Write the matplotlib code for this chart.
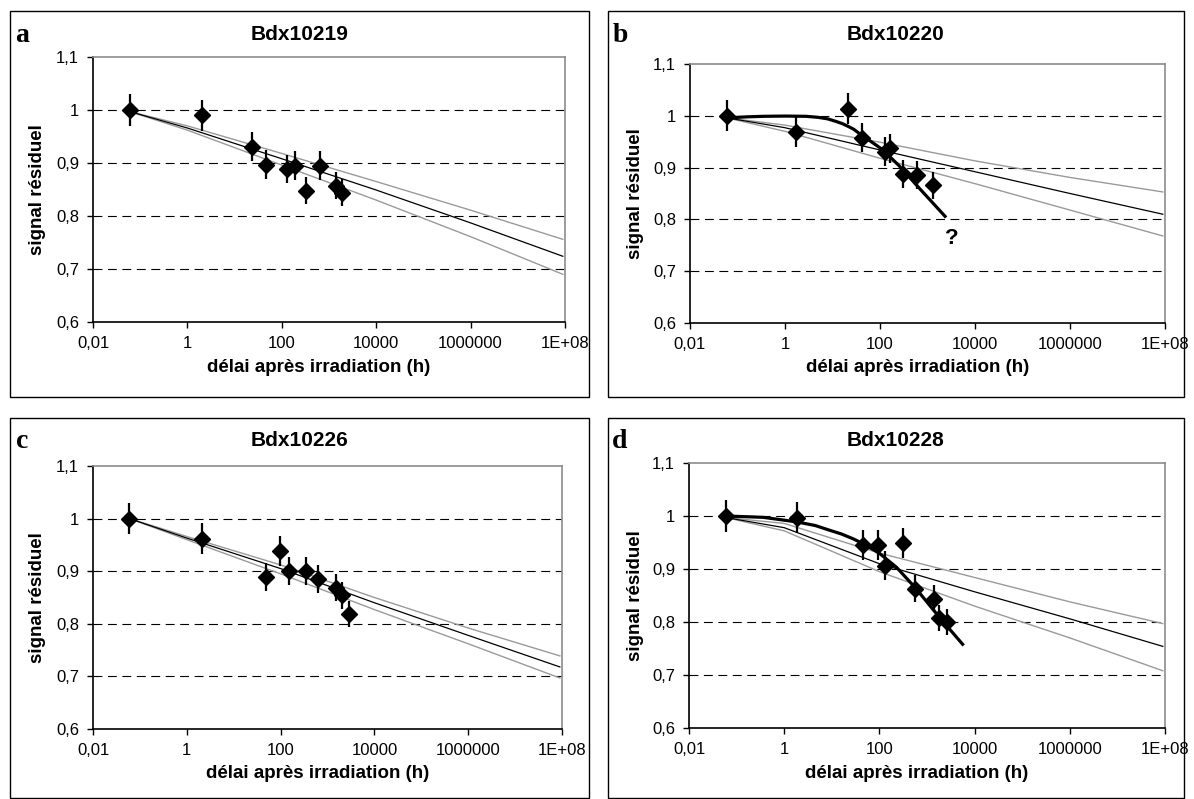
import numpy as np
import matplotlib.pyplot as plt
from matplotlib.patches import Rectangle

plt.rcParams['font.family'] = ['Liberation Sans', 'DejaVu Sans']

W, H = 1194, 799

# ---- values ----
# fitted fading lines (upper / central / lower), common time grid (h)
fit_t = [0.06, 1, 100, 1e4, 1e6, 9e7]

# panel a : Bdx10219
a_t = [0.06, 2.0, 23, 47, 132, 192, 322, 630, 1425, 1850]
a_sig = [1.0, 0.990, 0.931, 0.897, 0.889, 0.895, 0.848, 0.895, 0.857, 0.844]
a_up = [0.997, 0.970, 0.918, 0.865, 0.811, 0.756]
a_mid = [0.997, 0.966, 0.908, 0.849, 0.787, 0.724]
a_low = [0.997, 0.962, 0.896, 0.830, 0.761, 0.690]

# panel b : Bdx10220
b_t = [0.06, 1.67, 21, 41, 126, 161, 311, 590, 1300]
b_sig = [1.0, 0.968, 1.014, 0.958, 0.931, 0.937, 0.888, 0.886, 0.866]
b_up = [0.996, 0.982, 0.949, 0.913, 0.881, 0.853]
b_mid = [0.996, 0.977, 0.934, 0.892, 0.850, 0.810]
b_low = [0.996, 0.970, 0.918, 0.869, 0.818, 0.768]
b_curve_t = [0.06, 0.16, 0.35, 1, 2.8, 5, 8, 12, 16, 22, 28, 43, 63, 112, 250, 660, 2340]
b_curve = [0.996, 0.998, 0.999, 0.9995, 0.999, 0.997, 0.994, 0.989, 0.985, 0.979,
           0.974, 0.961, 0.951, 0.935, 0.904, 0.861, 0.806]

# panel c : Bdx10226
c_t = [0.06, 2.1, 48, 97, 150, 343, 620, 1500, 2040, 2920]
c_sig = [1.0, 0.962, 0.889, 0.938, 0.900, 0.900, 0.886, 0.869, 0.854, 0.818]
c_up = [1.0, 0.966, 0.912, 0.850, 0.792, 0.739]
c_mid = [1.0, 0.963, 0.905, 0.840, 0.778, 0.718]
c_low = [1.0, 0.960, 0.895, 0.827, 0.762, 0.697]

# panel d : Bdx10228
d_t = [0.06, 1.83, 45, 92, 133, 316, 568, 1400, 1760, 2580]
d_sig = [1.0, 0.997, 0.945, 0.946, 0.906, 0.949, 0.863, 0.844, 0.808, 0.800]
d_up = [0.997, 0.986, 0.930, 0.884, 0.838, 0.797]
d_mid = [0.997, 0.978, 0.910, 0.857, 0.806, 0.754]
d_low = [0.997, 0.972, 0.895, 0.830, 0.770, 0.708]
d_curve_t = [0.06, 0.36, 1.8, 4.5, 9.1, 16, 28, 50, 102, 230, 575, 1860, 5600]
d_curve = [1.0, 0.9975, 0.989, 0.982, 0.973, 0.966, 0.957, 0.946, 0.929, 0.903,
           0.864, 0.808, 0.758]

rel_err = 0.03

x_ticks = [0.01, 1, 100, 1e4, 1e6, 1e8]
x_labels = ['0,01', '1', '100', '10000', '1000000', '1E+08']
y_ticks = [0.6, 0.7, 0.8, 0.9, 1.0, 1.1]
y_labels = ['0,6', '0,7', '0,8', '0,9', '1', '1,1']

# ---- layout (pixels) ----
panels = [
    # letter, title, axes box (l, t, r, b), frame (l, t, r, b), data
    ('a', 'Bdx10219', (93, 57, 565, 322), (10, 11, 589, 397),
     a_t, a_sig, a_up, a_mid, a_low, None, None),
    ('b', 'Bdx10220', (690, 64, 1165, 323), (608, 11, 1184, 397),
     b_t, b_sig, b_up, b_mid, b_low, b_curve_t, b_curve),
    ('c', 'Bdx10226', (93, 466, 562, 729), (10, 418, 589, 798),
     c_t, c_sig, c_up, c_mid, c_low, None, None),
    ('d', 'Bdx10228', (689, 463, 1165, 728), (608, 418, 1184, 798),
     d_t, d_sig, d_up, d_mid, d_low, d_curve_t, d_curve),
]

fig = plt.figure(figsize=(W / 100, H / 100), dpi=100)


def fx(px):
    return px / W


def fy(py):
    return 1 - py / H


for (letter, title, (l, t, r, b), (fl, ft, fr, fb),
     ts, sig, up, mid, low, ct, cv) in panels:
    # frame around each chart
    fig.patches.append(Rectangle((fx(fl), fy(fb)), fx(fr - fl), (fb - ft) / H,
                                 transform=fig.transFigure, fill=False,
                                 edgecolor='black', linewidth=1.0))

    ax = fig.add_axes([fx(l), fy(b), fx(r - l), (b - t) / H])
    ax.set_xscale('log')
    ax.set_xlim(0.01, 1e8)
    ax.set_ylim(0.6, 1.1)

    for yv in [0.7, 0.8, 0.9, 1.0]:
        ax.axhline(yv, color='black', linewidth=0.8, dashes=(8, 5), zorder=1)

    ax.plot(fit_t, up, color='#9a9a9a', linewidth=1.0, zorder=2)
    ax.plot(fit_t, low, color='#9a9a9a', linewidth=1.0, zorder=2)
    ax.plot(fit_t, mid, color='black', linewidth=0.9, zorder=2)
    if ct is not None:
        ax.plot(ct, cv, color='black', linewidth=2.3, zorder=3,
                solid_joinstyle='round')

    sig = np.array(sig)
    ax.errorbar(ts, sig, yerr=rel_err * sig, fmt='D', color='black',
                markersize=8.5, elinewidth=1.6, capsize=0, zorder=4)

    ax.set_xticks(x_ticks)
    ax.set_xticklabels(x_labels)
    ax.minorticks_off()
    ax.set_yticks(y_ticks)
    ax.set_yticklabels(y_labels)
    ax.tick_params(direction='out', length=4, width=1, labelsize=12,
                   pad=6, colors='black')
    for side in ['top', 'right']:
        ax.spines[side].set_color('#8c8c8c')
        ax.spines[side].set_linewidth(1.2)
    for side in ['left', 'bottom']:
        ax.spines[side].set_color('black')
        ax.spines[side].set_linewidth(1.2)

    # titles, axis labels, panel letters
    fig.text(fx((fl + fr) / 2), fy(ft + 23), title, ha='center', va='center',
             fontsize=15, fontweight='bold')
    fig.text(fx(fl + 12), fy(ft + 24), letter, ha='center', va='center',
             fontsize=20, fontweight='bold',
             family=['Liberation Serif', 'DejaVu Serif'])
    fig.text(fx(fl + 27), fy((t + b) / 2), 'signal résiduel', rotation=90,
             ha='center', va='center', fontsize=13.5, fontweight='bold')
    fig.text(fx((l + r) / 2 - 10), fy(b + 45), 'délai après irradiation (h)',
             ha='center', va='center', fontsize=13.5, fontweight='bold')

    if letter == 'b':
        ax.text(3240, 0.763, '?', ha='center', va='center', fontsize=16,
                fontweight='bold')

fig.savefig('out.png', dpi=100)
